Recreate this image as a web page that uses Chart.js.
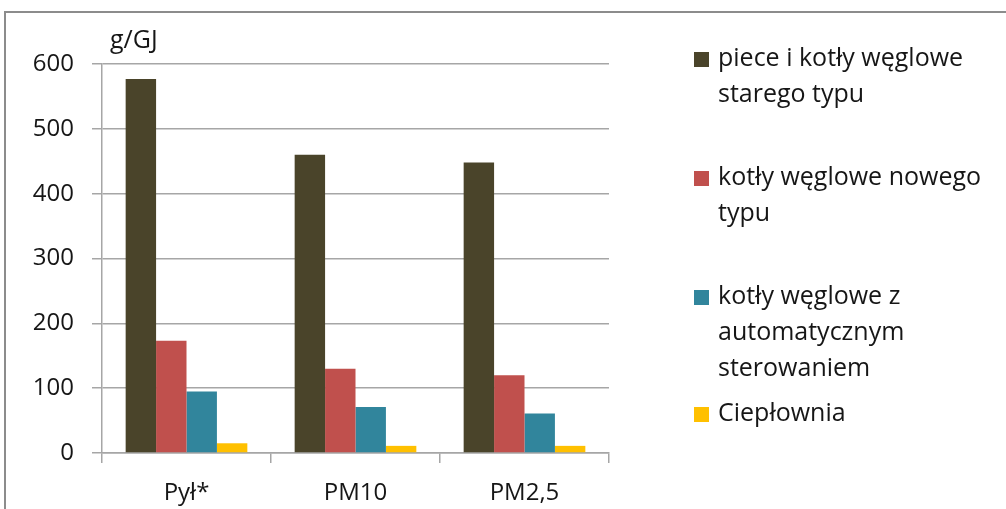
<!DOCTYPE html>
<html>
<head>
<meta charset="utf-8">
<script src="https://cdn.jsdelivr.net/npm/chart.js@4.4.1/dist/chart.umd.min.js"></script>
<style>
  html, body { margin: 0; padding: 0; background: #fff; overflow: hidden; }
  #wrap { position: relative; width: 1006px; height: 509px; }
  #frame { position: absolute; left: 4px; top: 11px; width: 1020px; height: 520px; border: 2px solid #8c8c8c; box-sizing: border-box; }
  canvas { position: absolute; left: 0; top: 0; }
</style>
</head>
<body>
<div id="wrap">
  <div id="frame"></div>
  <canvas id="chart" width="1006" height="509"></canvas>
</div>
<script>
// emisje pyłu wg rodzaju źródła, g/GJ
const categories = ['Pył*', 'PM10', 'PM2,5'];
const seriesNames = [
  'piece i kotły węglowe starego typu',
  'kotły węglowe nowego typu',
  'kotły węglowe z automatycznym sterowaniem',
  'Ciepłownia'
];
const oldStoves = [577, 460, 448];
const newBoilers = [173, 130, 120];
const autoBoilers = [95, 71, 61];
const heatPlant = [15, 11, 11];
const yTicks = [0, 100, 200, 300, 400, 500, 600];
const unitLabel = 'g/GJ';

// legend text broken into lines the way it wraps beside the plot
const legendLines = [
  ['piece i kotły węglowe', 'starego typu'],
  ['kotły węglowe nowego', 'typu'],
  ['kotły węglowe z', 'automatycznym', 'sterowaniem'],
  ['Ciepłownia']
];

const colors = ['#4a442a', '#c0504d', '#31859c', '#ffc000'];
const FAMILY = '"Open Sans", sans-serif';
const BIG_FONT = '25px ' + FAMILY;
const TEXT = '#161616';
const GRID = '#a6a6a6';

const sideLegend = {
  id: 'sideLegend',
  afterDraw(chart) {
    const c = chart.ctx;
    const rowY = [59, 178, 297, 414];
    c.save();
    c.font = BIG_FONT;
    c.textBaseline = 'middle';
    chart.data.datasets.forEach((ds, i) => {
      const y = rowY[i];
      c.fillStyle = ds.backgroundColor;
      c.fillRect(694, y - 7, 15, 15);
      c.fillStyle = TEXT;
      legendLines[i].forEach((t, j) => c.fillText(t, 718, y + j * 36));
    });
    c.restore();
  }
};

const unitTitle = {
  id: 'unitTitle',
  afterDraw(chart) {
    const c = chart.ctx;
    const y = chart.scales.y;
    c.save();
    c.font = BIG_FONT;
    c.fillStyle = TEXT;
    c.textBaseline = 'middle';
    c.fillText(unitLabel, y.right + 8, y.top - 23);
    c.restore();
  }
};

const series = [oldStoves, newBoilers, autoBoilers, heatPlant];

new Chart(document.getElementById('chart'), {
  type: 'bar',
  data: {
    labels: categories,
    datasets: series.map((vals, i) => ({
      label: seriesNames[i],
      data: vals,
      backgroundColor: colors[i],
      borderWidth: 0,
      categoryPercentage: 0.72,
      barPercentage: 1
    }))
  },
  options: {
    responsive: false,
    animation: false,
    layout: { padding: { left: 0, right: 397, top: 64, bottom: 0 } },
    plugins: {
      legend: { display: false },
      tooltip: { enabled: false }
    },
    scales: {
      x: {
        afterFit: s => { s.height = 56; },
        grid: {
          offset: true,
          drawOnChartArea: false,
          drawTicks: true,
          tickLength: 10,
          color: GRID,
          lineWidth: 1.5
        },
        border: { color: GRID, width: 1.5 },
        ticks: { color: TEXT, font: { family: FAMILY, size: 24 }, padding: 16 }
      },
      y: {
        min: 0,
        max: 600,
        afterFit: s => { s.width = 102; },
        afterBuildTicks: s => { s.ticks = yTicks.map(v => ({ value: v })); },
        grid: { color: GRID, lineWidth: 1.5, tickLength: 10 },
        border: { color: GRID, width: 1.5 },
        ticks: { color: TEXT, font: { family: FAMILY, size: 24 }, padding: 18 }
      }
    }
  },
  plugins: [sideLegend, unitTitle]
});
</script>
</body>
</html>
